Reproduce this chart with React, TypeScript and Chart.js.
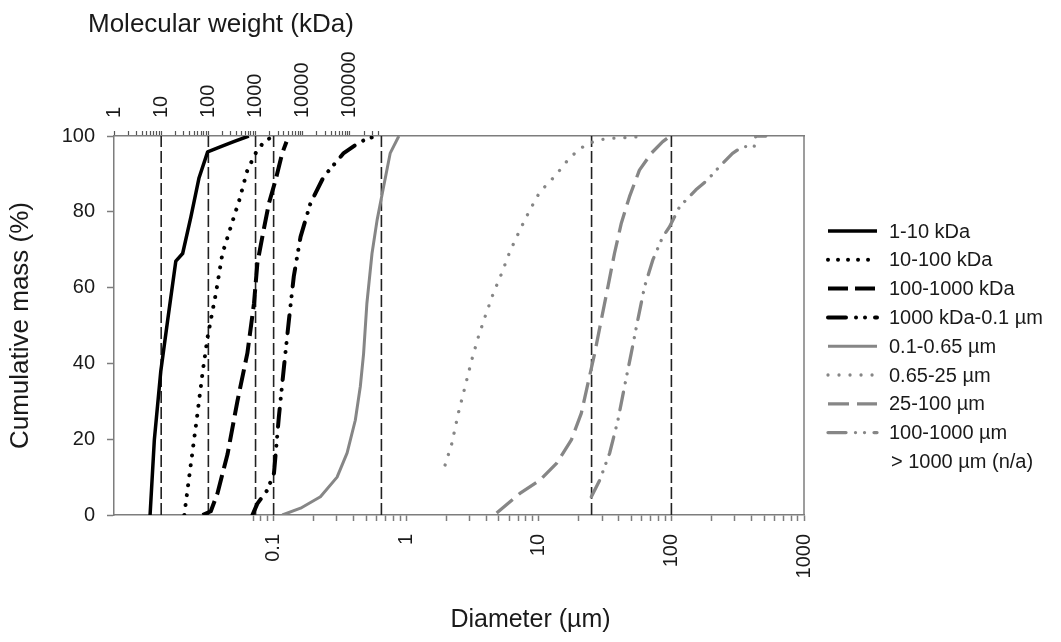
import { useEffect, useRef } from 'react';
import { Chart, registerables } from 'chart.js';

Chart.register(...registerables);

const FONT = '"Liberation Sans", Arial, Helvetica, sans-serif';

// ---- data ----
const seriesNames = [
  '1-10 kDa',
  '10-100 kDa',
  '100-1000 kDa',
  '1000 kDa-0.1 µm',
  '0.1-0.65 µm',
  '0.65-25 µm',
  '25-100 µm',
  '100-1000 µm',
];
const naLabel = '> 1000 µm (n/a)';

const d1 = [0.0117, 0.0126, 0.0141, 0.0159, 0.0183, 0.0206, 0.0238, 0.0274, 0.0318, 0.04, 0.05, 0.065];
const p1 = [0, 19.8, 38, 51.5, 67, 69, 78.7, 89, 95.8, 97.2, 98.5, 100];

const d2 = [0.0212, 0.0224, 0.0245, 0.0267, 0.0291, 0.0318, 0.0336, 0.0367, 0.0411, 0.0475, 0.055, 0.0634, 0.0733, 0.0846, 0.0977];
const p2 = [0, 6.6, 17, 27, 37.5, 47, 51.5, 58.5, 69, 76, 83, 91, 95.5, 98.5, 99.8];

const d3 = [0.0291, 0.0336, 0.0377, 0.0449, 0.0533, 0.0634, 0.0711, 0.0754, 0.0822, 0.0922, 0.1035, 0.1162, 0.125];
const p3 = [0, 1, 5.7, 16, 30, 42.7, 55.8, 66.4, 73.4, 82.3, 88.4, 95.5, 98.5];

const d4 = [0.0692, 0.0754, 0.0897, 0.1006, 0.1096, 0.1196, 0.1305, 0.142, 0.1596, 0.1898, 0.239, 0.3378, 0.4506, 0.567];
const p4 = [0, 3, 6.6, 11, 26, 39, 51.5, 63, 73.4, 82.3, 89.3, 95.5, 98.5, 99.8];

const d5 = [0.1162, 0.1596, 0.2255, 0.301, 0.3584, 0.413, 0.4506, 0.477, 0.505, 0.552, 0.603, 0.675, 0.7577, 0.88];
const p5 = [0, 1.8, 4.8, 10, 16.4, 25, 33.9, 42.6, 55.8, 69, 77.8, 86.6, 95.5, 100];

const d6 = [1.965, 2.21, 2.47, 2.78, 3.12, 3.5, 3.93, 4.54, 5.25, 6.05, 7.2, 8.56, 10.2, 12.45, 14.4, 16.6, 19.8, 23.5, 28.8, 36.2, 57.5];
const p6 = [13.2, 18.9, 26.8, 33.9, 40.9, 47, 52.3, 58.5, 63.8, 69.5, 75.2, 80.5, 85.3, 88.4, 91, 93.7, 96.3, 98, 99, 99.4, 99.8];

const d7 = [4.81, 7.2, 10.2, 13.6, 17.6, 20.9, 23.5, 26.4, 29.6, 33.2, 37.2, 41.9, 48.3, 57.4, 70.3, 86, 96.6];
const p7 = [0.5, 5.7, 9.2, 13.6, 19.8, 26.8, 34.8, 42.7, 51.5, 60.2, 69, 77, 84, 91, 95.4, 98.5, 99.8];

const d8 = [24.9, 28.8, 34.2, 39.5, 44.3, 49.8, 55.8, 62.7, 72.4, 86, 96.6, 115, 153, 187, 230, 289, 344, 421, 433, 515];
const p8 = [4.8, 9.2, 16.3, 25, 33.9, 42.7, 51.5, 60.2, 67.3, 73.4, 76, 81.3, 85.8, 88.4, 91.9, 95.4, 97.2, 97.2, 100, 100];

const diameterTicks = [0.1, 1, 10, 100, 1000];
const diameterTickLabels = ['0.1', '1', '10', '100', '1000'];
const mwTicks = [1, 10, 100, 1000, 10000, 100000];
const mwTickLabels = ['1', '10', '100', '1000', '10000', '100000'];
const yTicks = [0, 20, 40, 60, 80, 100];

const refLinesKDa = [10, 100, 1000];
const refLinesUm = [0.1, 0.65, 25, 100];

const diameterMin = 0.006254;
const diameterMax = 1000;
const mwMin = 1;
const mwMax = 4.2e14;

const xTitle = 'Diameter (µm)';
const x2Title = 'Molecular weight (kDa)';
const yTitle = 'Cumulative mass (%)';

// ---- styles ----
const BLACK = '#000000';
const GRAY = '#868686';
const AXIS = '#7d7d7d';
const TEXT = '#1a1a1a';

const styles = [
  { color: BLACK, width: 3.5, dash: [] as number[], cap: 'butt' },
  { color: BLACK, width: 4, dash: [0.01, 10], cap: 'round' },
  { color: BLACK, width: 4, dash: [20, 7], cap: 'butt' },
  { color: BLACK, width: 4, dash: [18, 10, 0.01, 9, 0.01, 10], cap: 'round' },
  { color: GRAY, width: 3, dash: [] as number[], cap: 'butt' },
  { color: GRAY, width: 3.3, dash: [0.01, 11], cap: 'round' },
  { color: GRAY, width: 3.3, dash: [21, 8], cap: 'butt' },
  { color: GRAY, width: 3.3, dash: [18, 9.5, 0.01, 9, 0.01, 9.5], cap: 'round' },
];

const seriesD = [d1, d2, d3, d4, d5, d6, d7, d8];
const seriesP = [p1, p2, p3, p4, p5, p6, p7, p8];

function minorTicks(lo: number, hi: number, firstDecade: number, lastDecade: number) {
  const out: number[] = [];
  for (let dec = firstDecade; dec <= lastDecade * 1.0001; dec *= 10) {
    for (let m = 1; m <= 9; m++) {
      const v = m * dec;
      if (v >= lo * 0.9999 && v <= hi * 1.0001) out.push(Number(v.toPrecision(6)));
    }
  }
  return out;
}

const decorPlugin = {
  id: 'decor',
  afterDraw(chart: any) {
    const { ctx, chartArea: a } = chart;
    ctx.save();
    // right frame
    ctx.strokeStyle = AXIS;
    ctx.lineWidth = 1.5;
    ctx.setLineDash([]);
    ctx.beginPath();
    ctx.moveTo(a.right, a.top);
    ctx.lineTo(a.right, a.bottom);
    ctx.stroke();

    // titles
    ctx.fillStyle = TEXT;
    ctx.font = `26px ${FONT}`;
    ctx.textAlign = 'left';
    ctx.textBaseline = 'alphabetic';
    ctx.fillText(x2Title, 88, 32);
    ctx.font = `25px ${FONT}`;
    ctx.textAlign = 'center';
    ctx.fillText(xTitle, chart.width / 2, 627);

    // legend
    const x0 = 828;
    const x1 = 877;
    const tx = 889;
    const y0 = 231;
    const dy = 28.8;
    ctx.font = `20px ${FONT}`;
    ctx.textAlign = 'left';
    ctx.textBaseline = 'middle';
    seriesNames.forEach((name, i) => {
      const ds = chart.data.datasets[i];
      const y = y0 + dy * i;
      ctx.save();
      ctx.strokeStyle = ds.borderColor;
      ctx.lineWidth = ds.borderWidth;
      ctx.lineCap = ds.borderCapStyle;
      ctx.setLineDash(ds.borderDash || []);
      ctx.beginPath();
      ctx.moveTo(x0, y);
      ctx.lineTo(x1, y);
      ctx.stroke();
      ctx.restore();
      ctx.fillStyle = TEXT;
      ctx.fillText(name, tx, y + 1);
    });
    ctx.fillStyle = TEXT;
    ctx.fillText(naLabel, tx + 2, y0 + dy * seriesNames.length + 1);
    ctx.restore();
  },
};

export default function App() {
  const ref = useRef<HTMLCanvasElement | null>(null);

  useEffect(() => {
    if (!ref.current) return;

    const seriesSets = seriesNames.map((name, i) => ({
      label: name,
      data: seriesD[i].map((d, j) => ({ x: d, y: seriesP[i][j] })),
      borderColor: styles[i].color,
      borderWidth: styles[i].width,
      borderDash: styles[i].dash,
      borderCapStyle: styles[i].cap,
      borderJoinStyle: 'round',
      pointRadius: 0,
      showLine: true,
      tension: 0,
      xAxisID: 'x',
      yAxisID: 'y',
    }));

    const refStyle = {
      borderColor: '#222222',
      borderWidth: 1.6,
      borderDash: [12, 4],
      pointRadius: 0,
      showLine: true,
      yAxisID: 'y',
    };
    const refSetsKDa = refLinesKDa.map((v) => ({
      ...refStyle,
      label: `ref ${v} kDa`,
      data: [{ x: v, y: 0 }, { x: v, y: 100 }],
      xAxisID: 'x2',
    }));
    const refSetsUm = refLinesUm.map((v) => ({
      ...refStyle,
      label: `ref ${v} µm`,
      data: [{ x: v, y: 0 }, { x: v, y: 100 }],
      xAxisID: 'x',
    }));

    const tickFont = { family: FONT, size: 20 };

    const chart = new Chart(ref.current, {
      type: 'scatter',
      data: { datasets: [...seriesSets, ...refSetsUm, ...refSetsKDa] as any },
      options: {
        animation: false,
        responsive: true,
        maintainAspectRatio: false,
        layout: { padding: { left: 0, right: 257, top: 0, bottom: 0 } },
        plugins: { legend: { display: false }, tooltip: { enabled: false }, title: { display: false } },
        scales: {
          x: {
            type: 'logarithmic',
            position: 'bottom',
            min: diameterMin,
            max: diameterMax,
            afterBuildTicks: (scale: any) => {
              scale.ticks = minorTicks(0.07, 1000, 0.01, 1000).map((v) => ({ value: v }));
            },
            afterFit: (scale: any) => {
              scale.height = 127;
            },
            ticks: {
              autoSkip: false,
              minRotation: 90,
              maxRotation: 90,
              padding: 13,
              color: TEXT,
              font: tickFont,
              callback: (value: any) => {
                const k = diameterTicks.findIndex((t) => Math.abs(t - Number(value)) / t < 1e-6);
                return k >= 0 ? diameterTickLabels[k] : '';
              },
            },
            grid: { drawOnChartArea: false, drawTicks: true, tickLength: 6, tickColor: AXIS, tickWidth: 1.5 },
            border: { display: true, color: AXIS, width: 1.5 },
            title: { display: false, text: xTitle },
          },
          x2: {
            type: 'logarithmic',
            position: 'top',
            min: mwMin,
            max: mwMax,
            afterBuildTicks: (scale: any) => {
              scale.ticks = minorTicks(1, 400000, 1, 100000).map((v) => ({ value: v }));
            },
            afterFit: (scale: any) => {
              scale.height = 136;
            },
            ticks: {
              autoSkip: false,
              minRotation: 90,
              maxRotation: 90,
              padding: 13,
              labelOffset: 24,
              color: TEXT,
              font: tickFont,
              callback: (value: any) => {
                const k = mwTicks.findIndex((t) => Math.abs(t - Number(value)) / t < 1e-6);
                return k >= 0 ? mwTickLabels[k] : '';
              },
            },
            grid: { drawOnChartArea: false, drawTicks: true, tickLength: 5, tickColor: '#555555', tickWidth: 1.2 },
            border: { display: true, color: AXIS, width: 1.5 },
            title: { display: false, text: x2Title },
          },
          y: {
            type: 'linear',
            position: 'left',
            min: 0,
            max: 100,
            afterBuildTicks: (scale: any) => {
              scale.ticks = yTicks.map((v) => ({ value: v }));
            },
            afterFit: (scale: any) => {
              scale.width = 114;
            },
            ticks: { padding: 12, color: TEXT, font: tickFont },
            grid: { drawOnChartArea: false, drawTicks: true, tickLength: 7, tickColor: AXIS, tickWidth: 1.5 },
            border: { display: true, color: AXIS, width: 1.5 },
            title: {
              display: true,
              text: yTitle,
              color: TEXT,
              font: { family: FONT, size: 26, lineHeight: 1 },
              padding: { top: 8, bottom: 0 },
            },
          },
        },
      } as any,
      plugins: [decorPlugin],
    });

    return () => chart.destroy();
  }, []);

  return (
    <div style={{ position: 'absolute', left: 0, top: 0, width: 1061, height: 642, background: '#ffffff' }}>
      <canvas ref={ref} />
    </div>
  );
}
